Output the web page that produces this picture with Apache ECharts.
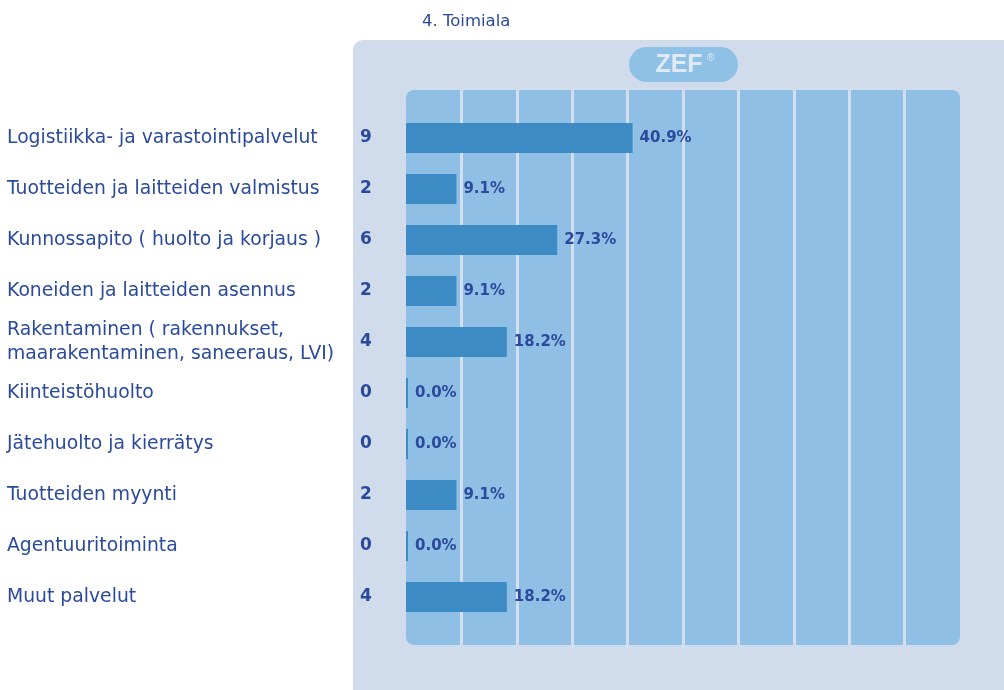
<!DOCTYPE html>
<html>
<head>
<meta charset="utf-8">
<script src="https://cdn.jsdelivr.net/npm/echarts@6/dist/echarts.min.js"></script>
<style>
html,body{margin:0;padding:0;background:#fff;}
#chart{width:1004px;height:690px;}
</style>
</head>
<body>
<div id="chart"></div>
<script>
var title = '4. Toimiala';
var categories = [
  'Logistiikka- ja varastointipalvelut',
  'Tuotteiden ja laitteiden valmistus',
  'Kunnossapito ( huolto ja korjaus )',
  'Koneiden ja laitteiden asennus',
  'Rakentaminen ( rakennukset,\nmaarakentaminen, saneeraus, LVI)',
  'Kiinteistöhuolto',
  'Jätehuolto ja kierrätys',
  'Tuotteiden myynti',
  'Agentuuritoiminta',
  'Muut palvelut'
];
var counts = [9, 2, 6, 2, 4, 0, 0, 2, 0, 4];
var percents = [40.9, 9.1, 27.3, 9.1, 18.2, 0.0, 0.0, 9.1, 0.0, 18.2];

var textColor = '#2b4a9c';
var chart = echarts.init(document.getElementById('chart'));
chart.setOption({
  animation: false,
  backgroundColor: '#ffffff',
  title: {
    text: title,
    left: 417, top: 8,
    textStyle: {fontFamily: 'DejaVu Sans', fontSize: 16.5, fontWeight: 'normal', color: textColor}
  },
  graphic: [
    {type: 'rect', z: -20, shape: {x: 353, y: 40, width: 700, height: 700, r: 10}, style: {fill: '#d0dcec'}},
    {type: 'rect', z: -10, shape: {x: 406, y: 90, width: 554, height: 555, r: 8}, style: {fill: '#8fbfe5'}},
    {type: 'rect', z: -10, shape: {x: 629, y: 47, width: 109, height: 35, r: 17.5}, style: {fill: '#8fc0e6'}},
    {type: 'text', z: -5, x: 679, y: 65, style: {text: 'ZEF', fill: '#dfeaf6', font: 'bold 25px "Liberation Sans", Arial', textAlign: 'center', textVerticalAlign: 'middle'}},
    {type: 'text', z: -5, x: 707, y: 58, style: {text: '®', fill: '#dfeaf6', font: '10px "Liberation Sans", Arial', textAlign: 'left', textVerticalAlign: 'middle'}}
  ],
  grid: [
    {left: 406, right: 44, top: 112.5, height: 510, containLabel: false},
    {left: 406, right: 44, top: 90, bottom: 45, containLabel: false}
  ],
  xAxis: [
    {gridIndex: 0, type: 'value', min: 0, max: 100, interval: 10, show: false},
    {gridIndex: 1, type: 'value', min: 0, max: 100, interval: 10,
      axisLine: {show: false}, axisTick: {show: false}, axisLabel: {show: false},
      splitLine: {show: true, showMinLine: false, showMaxLine: false, lineStyle: {color: '#d3deee', width: 3}}}
  ],
  yAxis: [
    {gridIndex: 0, type: 'category', inverse: true, data: categories,
      axisLine: {show: false}, axisTick: {show: false}, splitLine: {show: false},
      axisLabel: {align: 'left', margin: 399, fontFamily: 'DejaVu Sans', fontSize: 18.8, color: textColor, lineHeight: 24}},
    {gridIndex: 0, type: 'category', inverse: true, data: counts.map(String), position: 'left',
      axisLine: {show: false}, axisTick: {show: false}, splitLine: {show: false},
      axisLabel: {align: 'left', margin: 46, fontFamily: 'DejaVu Sans', fontWeight: 'bold', fontSize: 17, color: textColor}},
    {gridIndex: 1, type: 'category', data: [''], show: false}
  ],
  series: [{
    type: 'bar',
    xAxisIndex: 0, yAxisIndex: 0,
    data: percents,
    barWidth: 30,
    barMinHeight: 2,
    itemStyle: {color: '#3d8bc4'},
    label: {
      show: true, position: 'right', distance: 7,
      formatter: function (p) { return p.value.toFixed(1) + '%'; },
      fontFamily: 'DejaVu Sans', fontWeight: 'bold', fontSize: 15, color: textColor
    }
  }]
});
</script>
</body>
</html>
